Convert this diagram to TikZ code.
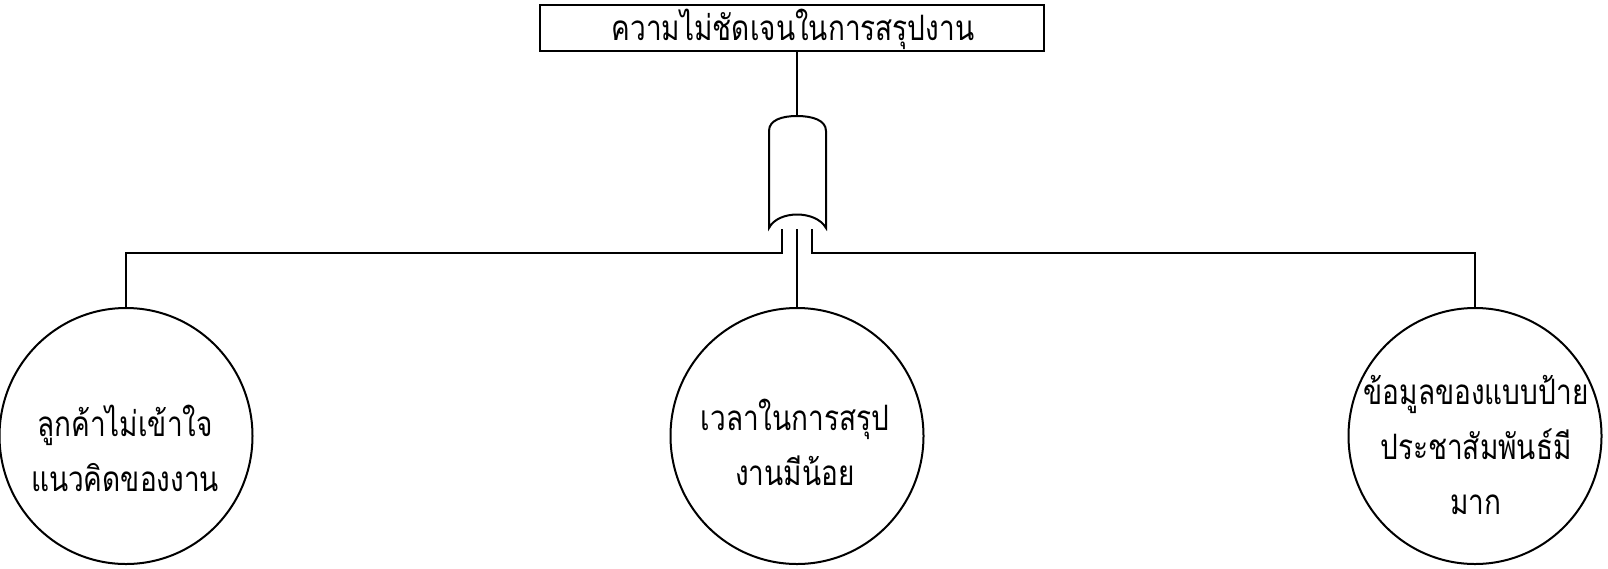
\documentclass[tikz,border=0pt]{standalone}
\usepackage{fontspec}
\usetikzlibrary{shapes.geometric}
\newfontfamily\thaifont[Script=Thai,FakeStretch=0.8]{Loma}
\begin{document}
\begin{tikzpicture}[x=1pt,y=-1pt,
  line width=2pt,
  lbl/.style={font=\thaifont\fontsize{35}{55}\selectfont, align=center, inner sep=0pt},
  topbox/.style={draw, minimum width=504pt, minimum height=46pt, inner sep=0pt},
  cause/.style={draw, ellipse, minimum width=253pt, minimum height=256pt, inner sep=0pt}]
\useasboundingbox (0,0) rectangle (1608,568);
\node[topbox] (top) at (792,28) {};
\node[lbl] (toptxt) at (793,29) {ความไม่ชัดเจนในการสรุปงาน};
% gate
\coordinate (gtop) at (797,116);
\draw (769,228) -- (769,131) .. controls (769,120) and (782,116) .. (gtop)
  .. controls (812,116) and (826,120) .. (826,131) -- (826,228)
  .. controls (816,210) and (778,210) .. (769,228) -- cycle;
\draw (top.south -| gtop) -- (gtop);
\coordinate (in1) at (782,229);
\coordinate (in2) at (797,229);
\coordinate (in3) at (812,229);
\node[cause] (c1) at (126,436) {};
\node[cause] (c2) at (797,436) {};
\node[cause] (c3) at (1475,436) {};
\node[lbl] (t1) at (125,448) {ลูกค้าไม่เข้าใจ\\แนวคิดของงาน};
\node[lbl] (t2) at (795,442) {เวลาในการสรุป\\งานมีน้อย};
\node[lbl] (t3) at (1476,445) {ข้อมูลของแบบป้าย\\ประชาสัมพันธ์มี\\มาก};
\draw (in1) |- (126,253) -- (c1.north);
\draw (in2) -- (c2.north);
\draw (in3) |- (1475,253) -- (c3.north);
\end{tikzpicture}
\end{document}
